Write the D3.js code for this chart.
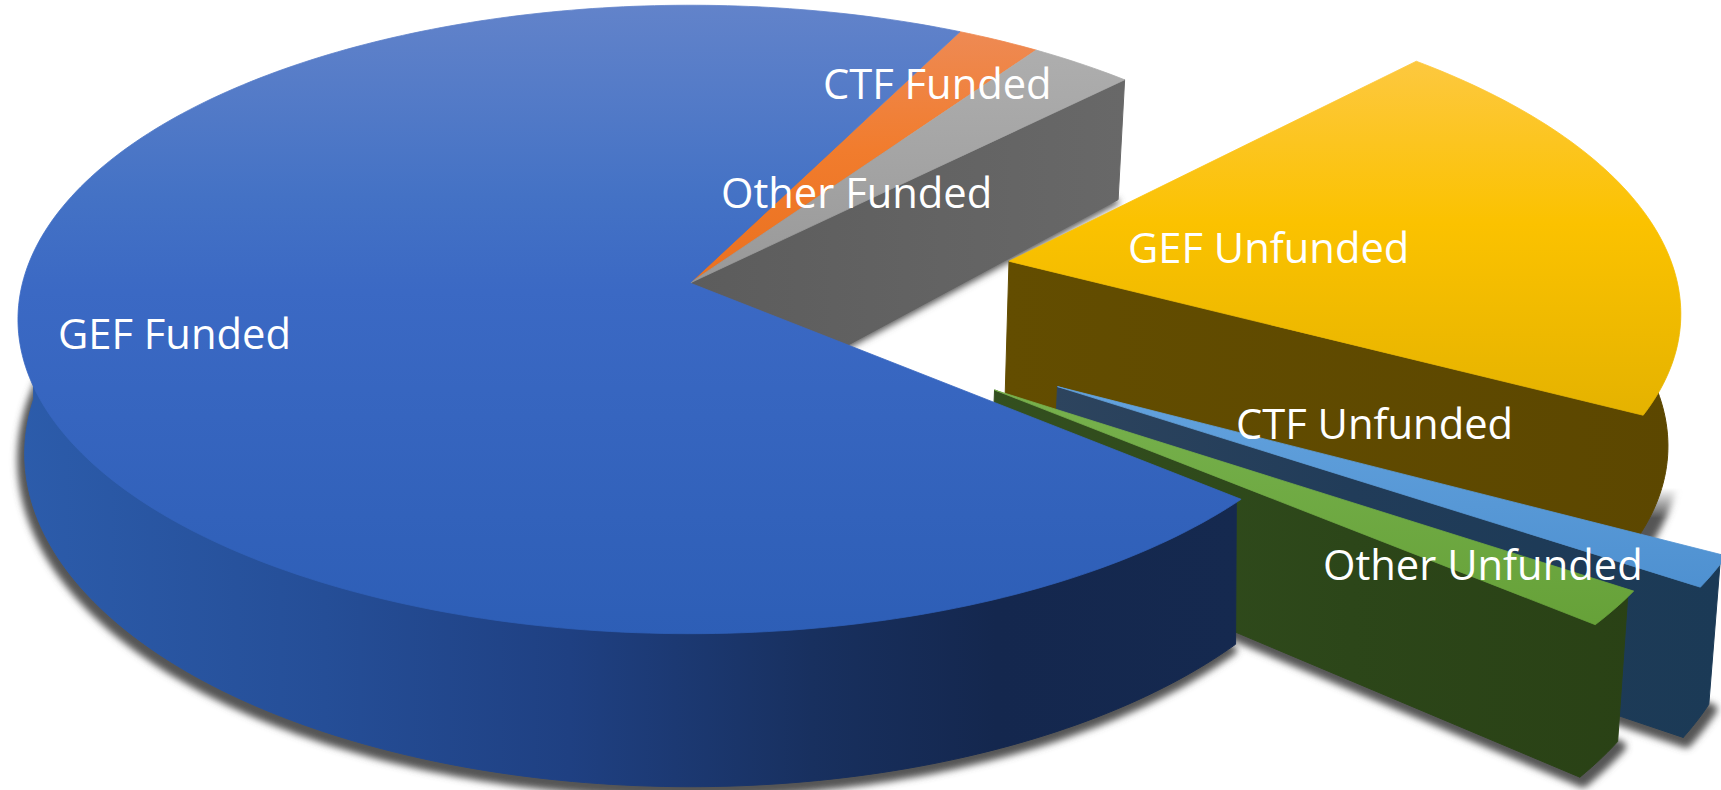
<!DOCTYPE html>
<html>
<head>
<meta charset="utf-8">
<script src="https://cdn.jsdelivr.net/npm/d3@7"></script>
<style>
html,body{margin:0;padding:0;background:#fff;overflow:hidden}
svg{display:block}
text{font-family:"Open Sans",sans-serif;fill:#fff}
</style>
</head>
<body>
<script>
// data (share of total, %)
const categories = ["GEF Funded","CTF Funded","Other Funded","GEF Unfunded","CTF Unfunded","Other Unfunded"];
const shares = [71.2, 2.25, 2.83, 20.47, 1.53, 1.72];
const explosion = [0, 0, 0, 0.487, 0.62, 0.55];

// styles
const topStops = [
  [["0","#6283ca"],["0.3","#4472c5"],["0.45","#3b69c4"],["1","#2d5eb6"]],
  [["0.04","#ee8a54"],["0.23","#f17c2d"],["0.44","#ea701e"]],
  [["0.07","#aeaeae"],["0.23","#a5a5a5"],["0.44","#989898"]],
  [["0","#fdc83f"],["0.45","#fbc200"],["1","#e4b200"]],
  [["0","#64a3de"],["1","#4a8dce"]],
  [["0","#78b24e"],["1","#66a138"]]
];
const wallStops = [
  [["0","#2c5cab"],["0.25","#254e97"],["0.45","#1f4082"],["0.65","#18305f"],["0.8","#14274e"],["1","#15294f"]],
  [["0","#5c5c5c"],["1","#5c5c5c"]],
  [["0","#5c5c5c"],["1","#686868"]],
  [["0","#634d00"],["1","#5c4700"]],
  [["0","#30465f"],["0.5","#213c59"],["1","#1b3a56"]],
  [["0","#34501f"],["0.5","#2c4619"],["1","#294014"]]
];
const labelAt = [[58,349],[823,99],[721,208],[1128,263],[1236,439],[1323,580]];
const wallTaperX = [0.99, 0.99, 0.985, 0.987, 0.983, 0.983];
const wallTaperY = [1.06, 1.06, 1.06, 1.0, 1.06, 1.06];
const apexDrop = [0, 0, 15, 12, 0, 0];

// layout
const W = 1721, H = 790;
const CX = 690, CY = 283, A = 667.5, B = 310, K = 0.116;
const DEPTH = 132;
const startDeg = 130.2;

const svg = d3.select("body").append("svg").attr("width",W).attr("height",H).attr("viewBox",`0 0 ${W} ${H}`);
const defs = svg.append("defs");
const blur = defs.append("filter").attr("id","shadow").attr("filterUnits","userSpaceOnUse")
  .attr("x",0).attr("y",0).attr("width",W).attr("height",H);
blur.append("feGaussianBlur").attr("stdDeviation",3.5);

function addGrad(id, stops, x1, y1, x2, y2){
  const g = defs.append("linearGradient").attr("id",id).attr("gradientUnits","userSpaceOnUse")
    .attr("x1",x1).attr("y1",y1).attr("x2",x2).attr("y2",y2);
  stops.forEach(s=>g.append("stop").attr("offset",s[0]).attr("stop-color",s[1]));
}
addGrad("fadeLow", [["0","#000"],["1","#fff"]], 0, 488, 0, 518);
defs.append("mask").attr("id","lowMask").attr("maskUnits","userSpaceOnUse")
  .attr("x",0).attr("y",0).attr("width",W).attr("height",H)
  .append("rect").attr("width",W).attr("height",H).attr("fill","url(#fadeLow)");

const xScale = d3.scaleLinear().domain([0,1]).range([CX,CX+A]);
const yScale = d3.scaleLinear().domain([0,1]).range([CY,CY+B]);
function project(u,v){ const w = 1-K*v; return [xScale(u/w), yScale(v/w)]; }

const pie = d3.pie().sort(null).value(d=>d)
  .startAngle(startDeg*Math.PI/180).endAngle((startDeg+360)*Math.PI/180);
const arcs = pie(shares).map((a,i)=>{
  const mid = (a.startAngle+a.endAngle)/2-Math.PI/2;
  return {i, t0:a.startAngle-Math.PI/2, t1:a.endAngle-Math.PI/2,
    ox:explosion[i]*Math.cos(mid), oy:explosion[i]*Math.sin(mid)};
});

function lower(p,s){
  return [CX+(p[0]-CX)*wallTaperX[s.i], CY+DEPTH+(p[1]-CY)*wallTaperY[s.i]];
}
function rimPoints(s,r=1){
  const n = Math.max(4,Math.ceil((s.t1-s.t0)/(Math.PI/180)));
  return d3.range(n+1).map(k=>{
    const t = s.t0+(s.t1-s.t0)*k/n;
    return {t, p:project(s.ox+r*Math.cos(t), s.oy+r*Math.sin(t))};
  });
}
const apex = s=>project(s.ox,s.oy);
const apexLow = s=>{ const q = lower(apex(s),s); return [q[0],q[1]+apexDrop[s.i]]; };
const line = d3.line().x(d=>d[0]).y(d=>d[1]);
const closed = pts=>line(pts)+"Z";

arcs.forEach(s=>{
  addGrad("top"+s.i, topStops[s.i], 0, s.i<3?5:(s.i===3?62:380), 0, s.i<3?640:(s.i===3?420:630));
  const xs = s.i<3?[20,1240]:(s.i===3?[1005,1680]:[980,1721]);
  addGrad("wall"+s.i, wallStops[s.i], xs[0],0,xs[1],0);
});
addGrad("wall2b", wallStops[2], 690,0,1123,0);

function drawShadow(s, dx, dy, width, mask){
  const base = [apexLow(s),...rimPoints(s).map(d=>lower(d.p,s))];
  const g = svg.append("g");
  if(mask) g.attr("mask",`url(#${mask})`);
  g.append("path").attr("d",closed(base)).attr("transform",`translate(${dx},${dy})`)
    .attr("fill","#555").attr("stroke","#555").attr("stroke-width",width)
    .attr("stroke-linejoin","round").attr("filter","url(#shadow)");
}
function drawSlice(s){
  const rim = rimPoints(s).map(d=>d.p), a = apex(s), lastP = rim[rim.length-1];
  const wallFill = `url(#wall${s.i})`;
  const faceFill = `url(#top${s.i})`;
  // outer wall: only the part of the rim that faces the viewer
  const inner = rimPoints(s,0.992).filter(d=>Math.sin(d.t)>-0.05);
  if(inner.length>1){
    const full = rimPoints(s).filter(d=>Math.sin(d.t)>-0.05);
    svg.append("path").attr("class","wall outer")
      .attr("d",closed([...inner.map(d=>d.p),...full.map(d=>lower(d.p,s)).reverse()]))
      .attr("fill",wallFill).attr("stroke",wallFill).attr("stroke-width",1);
  }
  // cut wall at the clockwise end of the slice
  if(s.i>=2){
    const f = s.i===2?"url(#wall2b)":wallFill;
    svg.append("path").attr("class","wall cut")
      .attr("d",closed([a,lastP,lower(lastP,s),apexLow(s)]))
      .attr("fill",f).attr("stroke",f).attr("stroke-width",1);
  }
  // top face
  svg.append("path").attr("class","face")
    .attr("d",closed([a,...rim]))
    .attr("fill",faceFill).attr("stroke",faceFill).attr("stroke-width",0.8);
}

// painter's order: far funded slices, exploded slices, then the big front slice
drawShadow(arcs[0],-3,6,9); drawShadow(arcs[2],0,2,3);
drawSlice(arcs[1]); drawSlice(arcs[2]);
drawShadow(arcs[3],8,8,8,"lowMask"); drawSlice(arcs[3]);
[4,5].forEach(i=>{ drawShadow(arcs[i],3,5,11); drawSlice(arcs[i]); });
drawSlice(arcs[0]);

// labels
svg.append("g").selectAll("text").data(categories).join("text")
  .attr("x",(d,i)=>labelAt[i][0]).attr("y",(d,i)=>labelAt[i][1])
  .attr("font-size",41.7).text(d=>d);
</script>
</body>
</html>
